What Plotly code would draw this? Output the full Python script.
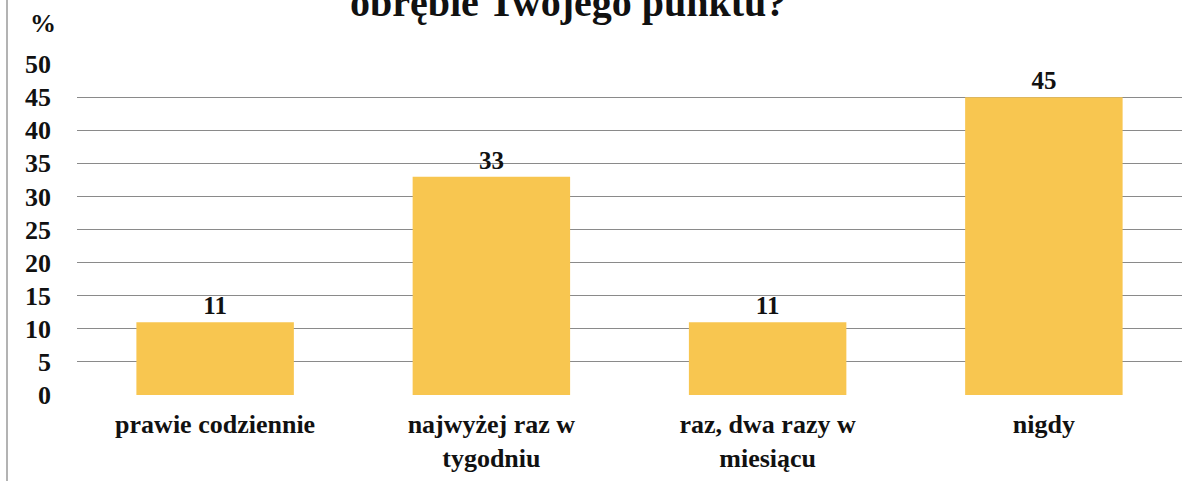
import plotly.graph_objects as go

categories = ["prawie codziennie", "najwyżej raz w<br>tygodniu", "raz, dwa razy w<br>miesiącu", "nigdy"]
values = [11, 33, 11, 45]
y_ticks = [0, 5, 10, 15, 20, 25, 30, 35, 40, 45, 50]

W, H = 1200, 481
M_L, M_R, M_T, M_B = 77, 18, 64, 86
SERIF = "Liberation Serif"
BAR = "#F8C650"
Y_MAX = 50.02

fig = go.Figure(
    go.Bar(
        x=categories,
        y=values,
        marker=dict(color=BAR, line=dict(width=0)),
        text=[str(v) for v in values],
        texttemplate="<b>%{text}</b>",
        textposition="outside",
        textfont=dict(family=SERIF, size=25, color="#111"),
        cliponaxis=False,
        width=0.57,
    )
)

plot_w = W - M_L - M_R


def px_to_paper_x(px):
    return (px - M_L) / plot_w


def px_to_paper_y(py):
    return (H - M_B - py) / (H - M_T - M_B)


fig.update_layout(
    width=W,
    height=H,
    margin=dict(l=M_L, r=M_R, t=M_T, b=M_B, pad=0, autoexpand=False),
    paper_bgcolor="white",
    plot_bgcolor="white",
    showlegend=False,
    font=dict(family=SERIF, color="#111", size=24),
    xaxis=dict(
        automargin=False,
        showgrid=False,
        showline=False,
        zeroline=False,
        ticks="",
        ticklabelstandoff=11,
        tickfont=dict(family=SERIF, size=26, color="#111", weight="bold"),
    ),
    yaxis=dict(
        automargin=False,
        range=[0, Y_MAX],
        tickvals=y_ticks,
        showgrid=True,
        gridcolor="#8a8a8a",
        gridwidth=1,
        zeroline=False,
        showline=False,
        ticks="",
        ticklabelstandoff=25,
        tickfont=dict(family=SERIF, size=26, color="#111", weight="bold"),
    ),
    annotations=[
        dict(
            text="<b>obrębie Twojego punktu?</b>",
            xref="paper", yref="paper",
            x=px_to_paper_x(568), y=px_to_paper_y(2),
            xanchor="center", yanchor="middle",
            showarrow=False,
            font=dict(family=SERIF, size=40, color="#111"),
        ),
        dict(
            text="<b>%</b>",
            xref="paper", yref="paper",
            x=px_to_paper_x(43), y=px_to_paper_y(24),
            xanchor="center", yanchor="middle",
            showarrow=False,
            font=dict(family=SERIF, size=26, color="#111"),
        ),
    ],
    shapes=[
        dict(
            type="line", xref="paper", yref="paper",
            x0=px_to_paper_x(7), x1=px_to_paper_x(7),
            y0=px_to_paper_y(0), y1=px_to_paper_y(H),
            line=dict(color="#9a9a9a", width=1.5),
        )
    ],
)

fig.write_html("out.html")
